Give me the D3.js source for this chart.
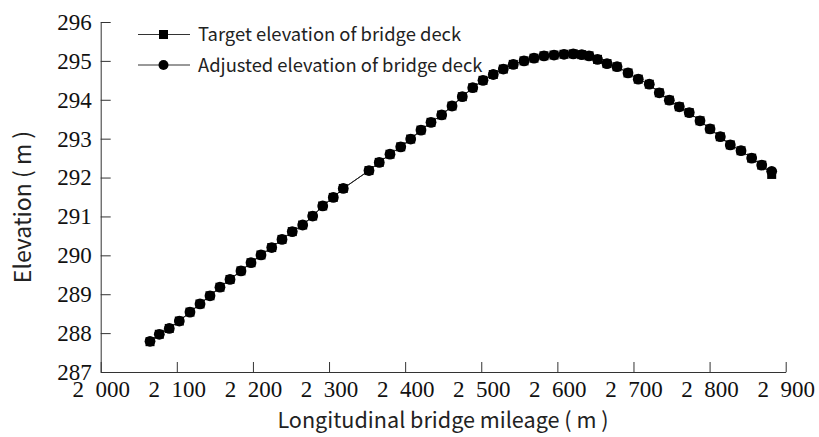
<!DOCTYPE html>
<html>
<head>
<meta charset="utf-8">
<script src="https://cdn.jsdelivr.net/npm/d3@7"></script>
<style>
  body{margin:0;background:#fff}
  svg{display:block}
  .lbl{font-family:"Noto Sans CJK SC","Noto Sans",sans-serif;fill:#222}
  svg .tick text{font-family:"Liberation Serif","DejaVu Serif",serif !important;font-size:23px !important}
</style>
</head>
<body>
<div id="chart"></div>
<script>
// Bridge deck elevation along mileage
const mileage = [2064.8,2077.0,2090.1,2103.3,2117.3,2130.5,2143.6,2156.7,2169.9,2184.3,
  2197.5,2210.6,2224.7,2238.2,2251.7,2265.4,2278.5,2291.7,2305.6,2318.7,
  2352.5,2366.0,2380.1,2394.2,2407.3,2420.8,2434.0,2448.0,2461.6,2475.1,
  2488.8,2502.3,2515.8,2529.0,2542.1,2556.2,2569.3,2582.4,2595.6,2608.7,
  2620.9,2632.0,2641.6,2652.7,2665.2,2678.4,2692.8,2706.3,2720.8,2733.9,
  2747.1,2760.2,2773.3,2787.4,2800.6,2814.1,2827.2,2841.3,2855.3,2868.5,2881.6];
const targetElev = [287.78,287.97,288.12,288.31,288.54,288.75,288.96,289.18,289.38,289.60,
  289.81,290.01,290.20,290.41,290.61,290.78,291.01,291.27,291.49,291.72,
  292.18,292.39,292.60,292.79,292.99,293.22,293.42,293.61,293.84,294.08,
  294.31,294.50,294.65,294.79,294.91,295.00,295.07,295.13,295.15,295.17,
  295.18,295.16,295.13,295.04,294.93,294.85,294.69,294.53,294.40,294.18,
  293.99,293.82,293.67,293.46,293.25,293.05,292.84,292.69,292.50,292.32,292.08];
const adjustedElev = [287.79,287.97,288.12,288.31,288.54,288.75,288.96,289.18,289.38,289.60,
  289.81,290.01,290.20,290.41,290.61,290.78,291.01,291.27,291.49,291.72,
  292.18,292.39,292.60,292.79,292.99,293.22,293.42,293.61,293.84,294.08,
  294.31,294.50,294.65,294.79,294.91,295.00,295.07,295.13,295.15,295.17,
  295.18,295.16,295.13,295.04,294.93,294.85,294.69,294.53,294.40,294.18,
  293.99,293.82,293.67,293.46,293.25,293.05,292.84,292.69,292.50,292.32,292.16];
const xTicks = [2000,2100,2200,2300,2400,2500,2600,2700,2800,2900];
const yTicks = [287,288,289,290,291,292,293,294,295,296];
const seriesNames = ["Target elevation of bridge deck","Adjusted elevation of bridge deck"];

const W = 819, H = 437;
const svg = d3.select("#chart").append("svg").attr("width",W).attr("height",H);

const x = d3.scaleLinear().domain([2000,2900]).range([100.7,785.7]);
const y = d3.scaleLinear().domain([287,296]).range([372,22]);

// axes, ticks pointing inward
const fmtX = d => `${Math.floor(d/1000)}\u2002${String(d%1000).padStart(3,"0")}`;
const serif = g => {
  g.attr("font-family","Liberation Serif").attr("font-size",23);
  g.selectAll(".tick text").attr("fill","#111");
};
svg.append("g").attr("transform","translate(0,372)")
  .call(d3.axisBottom(x).tickValues(xTicks).tickFormat(fmtX).tickSizeInner(-10).tickSizeOuter(0).tickPadding(9))
  .call(g=>g.selectAll("line,path").attr("stroke","#333"))
  .call(serif);
svg.append("g").attr("transform","translate(100.7,0)")
  .call(d3.axisLeft(y).tickValues(yTicks).tickSizeInner(-10).tickSizeOuter(0).tickPadding(9))
  .call(g=>g.selectAll("line,path").attr("stroke","#333"))
  .call(serif);

// axis titles
svg.append("text").attr("class","lbl").attr("x",443).attr("y",428).attr("text-anchor","middle")
  .attr("font-size",21.6).text("Longitudinal bridge mileage ( m )");
svg.append("text").attr("class","lbl").attr("transform","translate(31,207) rotate(-90)")
  .attr("text-anchor","middle").attr("font-size",23).text("Elevation ( m )");

// lines + markers
const line = d3.line().x(d=>x(d[0])).y(d=>y(d[1]));
const tgt = mileage.map((m,i)=>[m,targetElev[i]]);
const adj = mileage.map((m,i)=>[m,adjustedElev[i]]);
svg.append("path").datum(tgt).attr("d",line).attr("fill","none").attr("stroke","#222").attr("stroke-width",1);
svg.append("path").datum(adj).attr("d",line).attr("fill","none").attr("stroke","#222").attr("stroke-width",1);
const sq = 9;
svg.append("g").selectAll("rect").data(tgt).join("rect")
  .attr("x",d=>x(d[0])-sq/2).attr("y",d=>y(d[1])-sq/2).attr("width",sq).attr("height",sq).attr("fill","#000");
svg.append("g").selectAll("circle").data(adj).join("circle")
  .attr("cx",d=>x(d[0])).attr("cy",d=>y(d[1])).attr("r",5.4).attr("fill","#000");

// legend
const lg = svg.append("g");
seriesNames.forEach((name,i)=>{
  const cy = 34.5 + i*30.5;
  lg.append("line").attr("x1",138).attr("x2",190).attr("y1",cy).attr("y2",cy).attr("stroke","#333");
  if(i===0) lg.append("rect").attr("x",163.5-4.5).attr("y",cy-4.5).attr("width",9).attr("height",9).attr("fill","#000");
  else lg.append("circle").attr("cx",163.5).attr("cy",cy).attr("r",5).attr("fill","#000");
  lg.append("text").attr("class","lbl").attr("x",198).attr("y",cy+6.5).attr("font-size",18.4).text(name);
});
</script>
</body>
</html>
